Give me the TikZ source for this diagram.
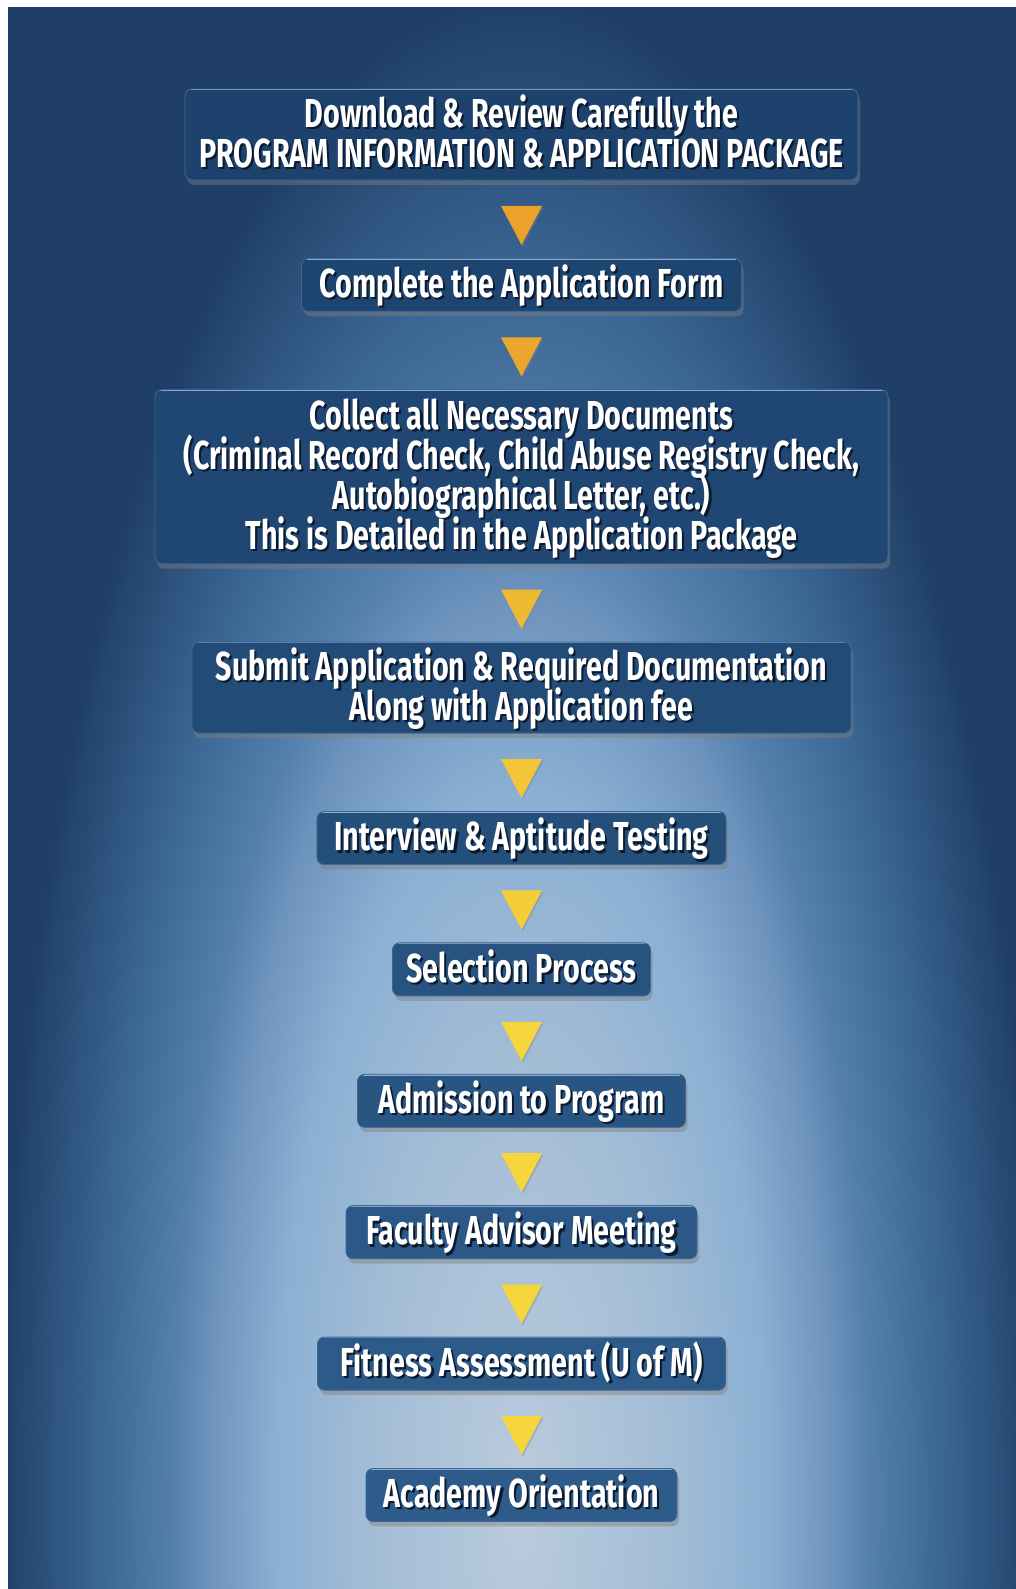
\documentclass[tikz,border=0pt]{standalone}
\usepackage{fontspec}
\newfontfamily\stepfont{Fira Sans}[FakeStretch=0.71]
\usetikzlibrary{positioning,shadows}

\definecolor{navy}{HTML}{1F3F69}
\definecolor{glowA}{HTML}{BACBDC}
\definecolor{glowB}{HTML}{A2BCD6}
\definecolor{glowC}{HTML}{8BB0D3}
\definecolor{glowD}{HTML}{6E94BE}
\definecolor{glowE}{HTML}{557FAD}
\definecolor{glowF}{HTML}{3D6896}
\definecolor{glowG}{HTML}{24466F}
\definecolor{boxtop}{HTML}{1C426D}
\definecolor{boxlow}{HTML}{2E5C8A}
\definecolor{boxedge}{HTML}{3F6794}
\definecolor{boxhi}{HTML}{8DAED2}
\definecolor{txtshadow}{HTML}{0B1A2E}
\definecolor{arroworange}{HTML}{EAA22B}
\definecolor{arrowyellow}{HTML}{F6D63C}

\pgfdeclareradialshading{bgglow}{\pgfpoint{0bp}{0bp}}{%
  color(0bp)=(glowA); color(7.5bp)=(glowB); color(11.75bp)=(glowC);
  color(15bp)=(glowD); color(16.75bp)=(glowE); color(20bp)=(glowF);
  color(24.25bp)=(glowG); color(25bp)=(navy); color(50bp)=(navy)}

% lines on a fixed baseline grid, white over a dark copy
\newcommand\stepstack[1]{\vbox{\let\\\cr\baselineskip=22.8pt\lineskiplimit=-\maxdimen
  \halign{\hfil\smash{##}\vrule height 19.3pt depth 3.5pt width 0pt\hfil\cr#1\crcr}}}
\newcommand\steptext[1]{%
  \rlap{\kern1.2pt\raisebox{-1.3pt}{\color{txtshadow}\stepstack{#1}}}%
  \stepstack{#1}}

\tikzset{
  stepbox/.style={rectangle, rounded corners=4pt, fill=boxlow!#1!boxtop,
    draw=boxedge, line width=.5pt, text=white, inner sep=0pt,
    font=\stepfont\bfseries\fontsize{23pt}{22.8pt}\selectfont,
    drop shadow={shadow xshift=1.2pt, shadow yshift=-2.8pt, opacity=.45},
    path picture={\draw[boxhi, line width=1.4pt]
      ([xshift=3pt]path picture bounding box.north west) --
      ([xshift=-3pt]path picture bounding box.north east);}},
  tri/.style={fill=arrowyellow!#1!arroworange,
    drop shadow={shadow xshift=.8pt, shadow yshift=-1pt, opacity=.35}}
}

\begin{document}
\begin{tikzpicture}[x=0.2mm, y=-0.2mm]
  \useasboundingbox (0,0) rectangle (1016,1589);
  \fill[white] (0,0) rectangle (1016,1589);
  \begin{scope}
    \clip (8,7) rectangle (1016,1589);
    \fill[navy] (8,7) rectangle (1016,1589);
    \shade[shading=bgglow] (1,0) rectangle (1041,3000);
  \end{scope}

  % steps
  \node[stepbox=0, minimum width=134.6mm, minimum height=18.2mm] (b1) at (521.5,134.5)
    {\steptext{Download \& Review Carefully the\\PROGRAM INFORMATION \& APPLICATION PACKAGE}};
  \coordinate[below=5.1mm of b1] (a1);
  \fill[tri=0] ([xshift=-4.1mm]a1) -- ++(41,0) -- ++(-20.5,39) -- cycle;

  \node[stepbox=10, minimum width=88mm, minimum height=10.6mm, below=10.4mm of a1] (b2)
    {\steptext{Complete the Application Form}};
  \coordinate[below=5.1mm of b2] (a2);
  \fill[tri=10] ([xshift=-4.1mm]a2) -- ++(41,0) -- ++(-20.5,39) -- cycle;

  \node[stepbox=20, minimum width=146.6mm, minimum height=34.8mm, below=10.4mm of a2] (b3)
    {\steptext{Collect all Necessary Documents\\(Criminal Record Check, Child Abuse Registry Check,\\Autobiographical Letter, etc.)\\This is Detailed in the Application Package}};
  \coordinate[below=5.1mm of b3] (a3);
  \fill[tri=45] ([xshift=-4.1mm]a3) -- ++(41,0) -- ++(-20.5,39) -- cycle;

  \node[stepbox=35, minimum width=131.8mm, minimum height=18.2mm, below=10.4mm of a3] (b4)
    {\steptext{Submit Application \& Required Documentation\\Along with Application fee}};
  \coordinate[below=5.1mm of b4] (a4);
  \fill[tri=70] ([xshift=-4.1mm]a4) -- ++(41,0) -- ++(-20.5,39) -- cycle;

  \node[stepbox=50, minimum width=81.8mm, minimum height=10.6mm, below=10.4mm of a4] (b5)
    {\steptext{Interview \& Aptitude Testing}};
  \coordinate[below=5.1mm of b5] (a5);
  \fill[tri=85] ([xshift=-4.1mm]a5) -- ++(41,0) -- ++(-20.5,39) -- cycle;

  \node[stepbox=65, minimum width=51.6mm, minimum height=10.6mm, below=10.4mm of a5] (b6)
    {\steptext{Selection Process}};
  \coordinate[below=5.1mm of b6] (a6);
  \fill[tri=100] ([xshift=-4.1mm]a6) -- ++(41,0) -- ++(-20.5,39) -- cycle;

  \node[stepbox=75, minimum width=65.6mm, minimum height=10.6mm, below=10.4mm of a6] (b7)
    {\steptext{Admission to Program}};
  \coordinate[below=5.1mm of b7] (a7);
  \fill[tri=100] ([xshift=-4.1mm]a7) -- ++(41,0) -- ++(-20.5,39) -- cycle;

  \node[stepbox=85, minimum width=70.2mm, minimum height=10.6mm, below=10.4mm of a7] (b8)
    {\steptext{Faculty Advisor Meeting}};
  \coordinate[below=5.1mm of b8] (a8);
  \fill[tri=100] ([xshift=-4.1mm]a8) -- ++(41,0) -- ++(-20.5,39) -- cycle;

  \node[stepbox=95, minimum width=81.6mm, minimum height=10.6mm, below=10.4mm of a8] (b9)
    {\steptext{Fitness Assessment (U of M)}};
  \coordinate[below=5.1mm of b9] (a9);
  \fill[tri=100] ([xshift=-4.1mm]a9) -- ++(41,0) -- ++(-20.5,39) -- cycle;

  \node[stepbox=100, minimum width=62.2mm, minimum height=10.6mm, below=10.4mm of a9] (b10)
    {\steptext{Academy Orientation}};
\end{tikzpicture}
\end{document}
